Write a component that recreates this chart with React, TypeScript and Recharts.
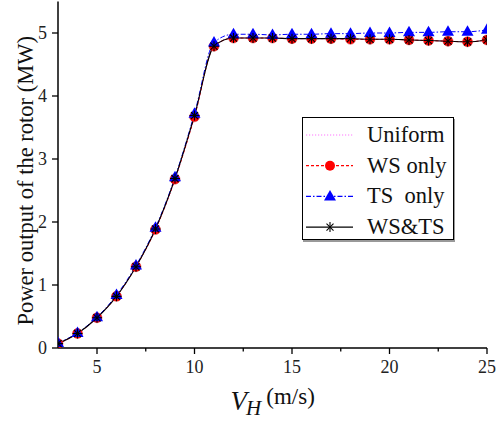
import React from 'react';
import { LineChart, Line, XAxis, YAxis, Legend } from 'recharts';

const windSpeeds = [3, 4, 5, 6, 7, 8, 9, 10, 11, 12, 13, 14, 15, 16, 17, 18, 19, 20, 21, 22, 23, 24, 25];
const uniform = [0.07, 0.23, 0.48, 0.82, 1.29, 1.88, 2.68, 3.67, 4.79, 4.92, 4.92, 4.92, 4.91, 4.91, 4.91, 4.9, 4.9, 4.9, 4.89, 4.88, 4.87, 4.86, 4.89];
const wsOnly = [0.07, 0.23, 0.48, 0.82, 1.29, 1.88, 2.68, 3.67, 4.79, 4.92, 4.92, 4.92, 4.91, 4.91, 4.91, 4.9, 4.9, 4.9, 4.89, 4.88, 4.87, 4.86, 4.89];
const tsOnly = [0.08, 0.24, 0.49, 0.84, 1.31, 1.91, 2.71, 3.72, 4.85, 4.98, 4.98, 4.97, 4.98, 4.98, 4.99, 4.99, 5.0, 5.0, 5.01, 5.01, 5.02, 5.02, 5.05];
const wsTs = [0.07, 0.23, 0.48, 0.82, 1.29, 1.89, 2.69, 3.69, 4.79, 4.92, 4.92, 4.92, 4.91, 4.91, 4.91, 4.91, 4.9, 4.9, 4.89, 4.88, 4.87, 4.86, 4.89];
const xTicks = [5, 7.5, 10, 12.5, 15, 17.5, 20, 22.5, 25];
const yTicks = [0, 1, 2, 3, 4, 5];
const seriesNames = ['Uniform', 'WS only', 'TS  only', 'WS&TS'];

const data = windSpeeds.map((x, i) => ({
  x,
  uniform: uniform[i],
  ws: wsOnly[i],
  ts: tsOnly[i],
  wsts: wsTs[i],
}));

const FONT = 'Liberation Serif, serif';
const fs = (size: number, extra: any = {}) => ({ fontFamily: FONT, fontSize: size, ...extra });

const XTick = (props: any) => {
  const { x, y, payload } = props;
  const v = payload.value;
  const major = v % 5 === 0;
  return (
    <g>
      <line x1={x} x2={x} y1={y} y2={y + (major ? 6 : 3.5)} stroke="#000" strokeWidth={1.3} />
      {major && (
        <text x={x} y={y + 25} textAnchor="middle" style={fs(18)} fill="#222">
          {v}
        </text>
      )}
    </g>
  );
};

const YTick = (props: any) => {
  const { x, y, payload } = props;
  return (
    <g>
      <line x1={x - 6} x2={x} y1={y} y2={y} stroke="#000" strokeWidth={1.3} />
      <text x={x - 11} y={y + 6} textAnchor="end" style={fs(18)} fill="#222">
        {payload.value}
      </text>
    </g>
  );
};

const Circle = (p: any) => {
  const { cx, cy, index } = p;
  if (cx == null || cy == null) return <g key={index} />;
  return <circle key={index} cx={cx} cy={cy} r={5} fill="#ff0000" stroke="#cc3333" strokeWidth={0.5} />;
};

const Tri = (p: any) => {
  const { cx, cy, index } = p;
  if (cx == null || cy == null) return <g key={index} />;
  return <path key={index} d={`M${cx},${cy - 6.5} L${cx + 6},${cy + 4} L${cx - 6},${cy + 4} Z`} fill="#0000ff" />;
};

const Star = (p: any) => {
  const { cx, cy, index } = p;
  if (cx == null || cy == null) return <g key={index} />;
  const r = 5;
  const d = r * 0.7071;
  return (
    <g key={index} stroke="#000" strokeWidth={1.1}>
      <line x1={cx} x2={cx} y1={cy - r} y2={cy + r} />
      <line x1={cx - r} x2={cx + r} y1={cy} y2={cy} />
      <line x1={cx - d} x2={cx + d} y1={cy - d} y2={cy + d} />
      <line x1={cx - d} x2={cx + d} y1={cy + d} y2={cy - d} />
    </g>
  );
};

const renderLegend = () => {
  const rows = [
    { name: seriesNames[0], color: '#ff77ff', dash: '1.2 1.8', marker: null as string | null },
    { name: seriesNames[1], color: '#ff0000', dash: '3 2', marker: 'circle' },
    { name: seriesNames[2], color: '#0000ff', dash: '5 2 1.5 2', marker: 'tri' },
    { name: seriesNames[3], color: '#000000', dash: undefined, marker: 'star' },
  ];
  return (
    <div
      style={{
        width: 150,
        height: 121,
        border: '1.2px solid #000',
        background: '#fff',
        boxShadow: '1px 2px 0 #999',
      }}
    >
      <svg width={150} height={121}>
        {rows.map((r, i) => {
          const cy = 17 + i * 30.7;
          const cx = 27;
          return (
            <g key={r.name}>
              <line x1={3} x2={50} y1={cy} y2={cy} stroke={r.color} strokeWidth={1.2} strokeDasharray={r.dash} />
              {r.marker === 'circle' && <circle cx={cx} cy={cy} r={5} fill="#ff0000" />}
              {r.marker === 'tri' && <path d={`M${cx},${cy - 6.5} L${cx + 6},${cy + 4} L${cx - 6},${cy + 4} Z`} fill="#0000ff" />}
              {r.marker === 'star' && (
                <g stroke="#000" strokeWidth={1.1}>
                  <line x1={cx} x2={cx} y1={cy - 5} y2={cy + 5} />
                  <line x1={cx - 3.5} x2={cx + 3.5} y1={cy - 3.5} y2={cy + 3.5} />
                  <line x1={cx - 3.5} x2={cx + 3.5} y1={cy + 3.5} y2={cy - 3.5} />
                </g>
              )}
              <text x={64} y={cy + 7} style={fs(22.5, { whiteSpace: 'pre' })} fill="#111">
                {r.name}
              </text>
            </g>
          );
        })}
      </svg>
    </div>
  );
};

const XLabel = (props: any) => {
  const vb = props.viewBox || { x: 58, y: 348, width: 429, height: 75 };
  const x0 = vb.x + vb.width * 0.4 + 1;
  return (
    <text x={x0} y={vb.y + 62} style={{ fontFamily: FONT }} fill="#111">
      <tspan fontStyle="italic" fontSize={27}>V</tspan>
      <tspan fontStyle="italic" fontSize={21} dy={5} dx={-1}>H</tspan>
      <tspan fontSize={23} dy={-11} dx={5}>(m/s)</tspan>
    </text>
  );
};

const YLabel = (props: any) => {
  const vb = props.viewBox || { x: 0, y: 1.5, width: 58, height: 346.5 };
  const cy = vb.y + vb.height / 2 + 6;
  const cx = 33;
  return (
    <text x={cx} y={cy} transform={`rotate(-90 ${cx} ${cy})`} textAnchor="middle" style={fs(22.5)} fill="#111">
      Power output of the rotor (MW)
    </text>
  );
};

export default function App() {
  return (
    <div style={{ position: 'absolute', left: 0, top: 0, width: 496, height: 423, background: '#fff', fontFamily: FONT }}>
      <LineChart width={496} height={423} data={data} margin={{ top: 1.5, right: 9, bottom: 0, left: 0 }}>
        <XAxis
          dataKey="x"
          type="number"
          domain={[3, 25]}
          ticks={xTicks}
          interval={0}
          height={75}
          tickLine={false}
          tickSize={0}
          tickMargin={0}
          tick={<XTick />}
          axisLine={{ stroke: '#000', strokeWidth: 1.5 }}
          allowDataOverflow
          label={{ content: XLabel } as any}
        />
        <YAxis
          type="number"
          domain={[0, 5.5]}
          ticks={yTicks}
          interval={0}
          width={58}
          tickLine={false}
          tickSize={0}
          tickMargin={0}
          tick={<YTick />}
          axisLine={{ stroke: '#000', strokeWidth: 1.5 }}
          allowDataOverflow
          label={{ content: YLabel } as any}
        />
        <Legend
          layout="vertical"
          align="center"
          verticalAlign="middle"
          content={renderLegend}
          wrapperStyle={{ position: 'absolute', left: 302, top: 117, width: 152, height: 123 }}
        />
        <Line name={seriesNames[0]} dataKey="uniform" type="monotone" stroke="#ff77ff" strokeWidth={1} strokeDasharray="1.2 1.8" dot={false} isAnimationActive={false} />
        <Line name={seriesNames[1]} dataKey="ws" type="monotone" stroke="#ff0000" strokeWidth={1} strokeDasharray="3 2" dot={Circle} isAnimationActive={false} />
        <Line name={seriesNames[2]} dataKey="ts" type="monotone" stroke="#0000ff" strokeWidth={1} strokeDasharray="5 2 1.5 2" dot={Tri} isAnimationActive={false} />
        <Line name={seriesNames[3]} dataKey="wsts" type="monotone" stroke="#000" strokeWidth={1.1} dot={Star} isAnimationActive={false} />
      </LineChart>
    </div>
  );
}
